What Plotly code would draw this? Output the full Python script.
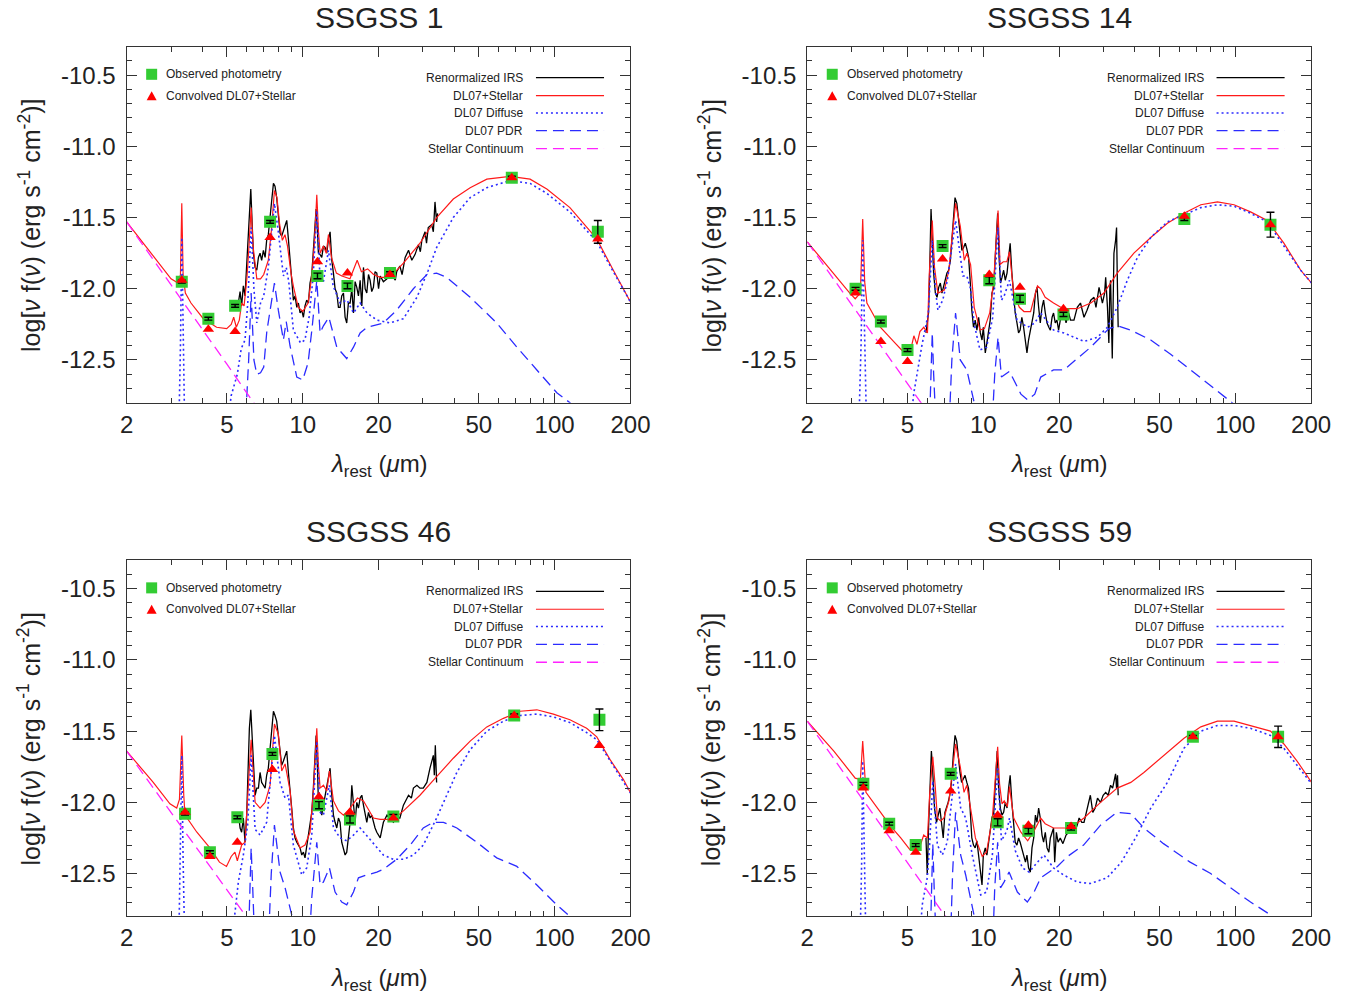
import plotly.graph_objects as go

FONT = "Liberation Sans, Arial, Helvetica, sans-serif"

TITLES = ["SSGSS 1", "SSGSS 14", "SSGSS 46", "SSGSS 59"]
X_TICKS = [2, 5, 10, 20, 50, 100, 200]
X_MINOR = [3, 4, 6, 7, 8, 9, 30, 40, 60, 70, 80, 90]
Y_TICKS = [-12.5, -12.0, -11.5, -11.0, -10.5]
Y_TICK_TEXT = ["-12.5", "-12.0", "-11.5", "-11.0", "-10.5"]
Y_MINOR = [-12.7, -12.6, -12.4, -12.3, -12.2, -12.1, -11.9, -11.8, -11.7, -11.6,
           -11.4, -11.3, -11.2, -11.1, -10.9, -10.8, -10.7, -10.6, -10.4]

LEG_RIGHT = ["Renormalized IRS", "DL07+Stellar", "DL07 Diffuse", "DL07 PDR", "Stellar Continuum"]
LEG_LEFT = ["Observed photometry", "Convolved DL07+Stellar"]

# ---------------- SSGSS 1 ----------------
P1_IRS = [(5.55,-12.10),(5.64,-12.02),(5.72,-12.12),(5.81,-11.98),(5.90,-12.05),(5.99,-11.82),(6.10,-11.60),
          (6.22,-11.30),(6.30,-11.55),(6.37,-11.75),(6.47,-11.85),(6.57,-11.87),(6.67,-11.78),(6.77,-11.75),
          (6.87,-11.80),(6.98,-11.73),(7.09,-11.78),(7.19,-11.66),(7.30,-11.62),(7.42,-11.47),(7.53,-11.38),
          (7.65,-11.26),(7.76,-11.28),(7.88,-11.36),(8.00,-11.50),(8.13,-11.61),(8.25,-11.63),(8.38,-11.59),
          (8.51,-11.55),(8.64,-11.52),(8.77,-11.65),(8.91,-11.80),(9.04,-11.95),(9.18,-12.08),(9.32,-12.05),
          (9.47,-12.13),(9.61,-12.10),(9.76,-12.17),(9.91,-12.15),(10.06,-12.20),(10.21,-12.12),(10.37,-12.08),
          (10.53,-12.10),(10.69,-11.96),(10.86,-11.90),(11.02,-11.71),(11.20,-11.55),(11.30,-11.44),
          (11.44,-11.60),(11.54,-11.75),(11.72,-11.76),(11.90,-11.78),(12.08,-11.70),(12.27,-11.71),
          (12.46,-11.75),(12.65,-11.65),(12.84,-11.60),(13.04,-11.80),(13.24,-11.89),(13.44,-12.00),
          (13.65,-12.03),(13.86,-12.13),(14.07,-12.13),(14.28,-12.05),(14.51,-12.03),(14.73,-12.20),
          (14.95,-12.24),(15.18,-12.10),(15.42,-12.10),(15.66,-12.00),(15.90,-12.17),(16.14,-11.95),
          (16.39,-11.99),(16.64,-12.05),(16.90,-11.94),(17.16,-12.12),(17.42,-11.85),(17.69,-12.00),
          (17.96,-12.03),(18.24,-11.90),(18.51,-11.94),(18.79,-12.02),(19.08,-11.99),(19.37,-11.88),
          (19.68,-11.89),(20.0,-12.00),(20.3,-11.91),(20.9,-11.95),(21.6,-11.93),(22.2,-11.90),(22.9,-11.92),
          (23.3,-11.94),(23.6,-11.88),(24.3,-11.84),(24.8,-11.90),(25.5,-11.78),(26.3,-11.73),(27.1,-11.80),
          (27.9,-11.76),(28.8,-11.69),(29.3,-11.74),(29.7,-11.66),(30.6,-11.60),(31.0,-11.68),(31.5,-11.57),
          (32.5,-11.55),(33.0,-11.60),(33.5,-11.39),(34.0,-11.53),(34.3,-11.47)]
P1_MODEL = [(2.0,-11.53),(2.5,-11.75),(3.0,-11.93),(3.2,-11.96),(3.27,-11.90),(3.31,-11.40),(3.35,-11.90),
            (3.42,-12.03),(3.6,-12.10),(4.03,-12.21),(4.55,-12.27),(4.99,-12.28),(5.2,-12.25),(5.32,-12.20),
            (5.45,-12.27),(5.6,-12.22),(5.72,-12.10),(5.85,-12.12),(6.0,-11.93),(6.12,-11.70),(6.24,-11.43),
            (6.35,-11.70),(6.57,-11.93),(6.8,-11.93),(7.0,-11.90),(7.3,-11.80),(7.5,-11.60),(7.72,-11.31),
            (7.9,-11.36),(8.1,-11.55),(8.3,-11.66),(8.5,-11.62),(8.7,-11.70),(9.0,-11.90),(9.2,-11.99),
            (9.6,-12.13),(10.0,-12.16),(10.5,-12.10),(10.9,-11.89),(11.15,-11.65),(11.37,-11.34),(11.55,-11.60),
            (11.72,-11.75),(12.08,-11.70),(12.4,-11.75),(12.65,-11.62),(13.0,-11.78),(13.6,-11.89),(14.3,-11.91),
            (15.4,-11.93),(16.0,-11.85),(16.45,-11.80),(17.1,-11.88),(18.1,-11.86),(19.1,-11.90),(20.3,-11.92),
            (22.2,-11.92),(25.1,-11.82),(29.2,-11.68),(34.0,-11.50),(39.6,-11.37),(46.2,-11.29),(53.8,-11.23),
            (66.6,-11.21),(79.9,-11.23),(93.1,-11.30),(115,-11.43),(147,-11.65),(171,-11.87),(201,-12.10)]
P1_DIFFUSE = [(3.22,-13.0),(3.27,-12.4),(3.31,-11.64),(3.35,-12.4),(3.40,-13.0),(5.0,-13.0),(5.2,-12.75),
              (5.5,-12.6),(5.7,-12.42),(5.9,-12.36),(6.05,-12.1),(6.24,-11.57),(6.4,-12.0),(6.57,-12.24),
              (6.8,-12.1),(7.0,-12.05),(7.3,-11.85),(7.72,-11.40),(8.0,-11.6),(8.38,-11.91),(8.6,-11.85),
              (8.8,-11.95),(9.18,-12.29),(9.8,-12.38),(10.2,-12.36),(10.6,-12.2),(11.0,-11.91),(11.37,-11.45),
              (11.7,-11.91),(12.08,-11.95),(12.65,-11.73),(13.2,-11.98),(14.07,-12.10),(15.0,-12.08),
              (15.9,-12.17),(16.9,-12.10),(18.0,-12.17),(19.7,-12.22),(22.2,-12.24),(25.1,-12.21),(28.4,-12.06),
              (31.5,-11.87),(34.0,-11.71),(39.6,-11.50),(46.2,-11.36),(53.8,-11.29),(66.6,-11.24),(79.9,-11.26),
              (93.1,-11.33),(115,-11.46),(147,-11.67),(171,-11.88),(201,-12.10)]
P1_PDR = [(5.9,-13.0),(6.1,-12.5),(6.24,-12.03),(6.4,-12.5),(6.57,-12.6),(6.8,-12.59),(7.0,-12.55),(7.2,-12.3),
          (7.5,-12.1),(7.72,-11.96),(8.0,-12.15),(8.38,-12.36),(8.6,-12.23),(8.9,-12.4),(9.47,-12.62),
          (10.0,-12.64),(10.5,-12.52),(10.9,-12.27),(11.37,-11.94),(11.72,-12.31),(12.08,-12.26),(12.7,-12.20),
          (13.65,-12.41),(14.95,-12.49),(15.9,-12.41),(16.9,-12.31),(18.0,-12.27),(20.9,-12.24),(23.6,-12.15),
          (27.5,-12.0),(31.1,-11.90),(34.0,-11.89),(37.3,-11.92),(46.2,-12.06),(58.9,-12.24),(70.8,-12.41),
          (85,-12.57),(102,-12.73),(115,-12.80),(125,-12.87)]
P1_STELLAR = [(2.0,-11.53),(3.0,-11.97),(4.0,-12.29),(5.0,-12.53),(6.5,-12.82),(7.0,-12.9)]
P1_PHOT_LAM = [3.31, 4.22, 5.39, 7.42, 11.44, 15.05, 22.2, 67.6, 148.4]
P1_PHOT_OBS = [-11.95, -12.21, -12.12, -11.53, -11.91, -11.98, -11.89, -11.22, -11.60]
P1_PHOT_ERR = [0.01, 0.01, 0.01, 0.01, 0.02, 0.02, 0.01, 0.01, 0.08]
P1_PHOT_MOD = [-11.94, -12.285, -12.30, -11.64, -11.81, -11.89, -11.90, -11.22, -11.65]

# ---------------- SSGSS 14 ----------------
P2_IRS = [(5.92,-12.31),(6.00,-12.24),(6.06,-12.17),(6.12,-11.89),(6.20,-11.44),(6.27,-11.66),(6.35,-11.89),
          (6.45,-12.03),(6.55,-12.06),(6.65,-11.99),(6.75,-11.96),(6.85,-12.03),(6.95,-11.99),(7.06,-11.94),
          (7.17,-11.89),(7.28,-11.87),(7.40,-11.80),(7.50,-11.66),(7.62,-11.47),(7.72,-11.36),(7.85,-11.40),
          (7.97,-11.52),(8.10,-11.66),(8.22,-11.73),(8.35,-11.71),(8.48,-11.68),(8.60,-11.72),(8.74,-11.78),
          (8.88,-11.96),(9.00,-12.15),(9.14,-12.27),(9.28,-12.22),(9.43,-12.29),(9.58,-12.20),(9.73,-12.31),
          (9.88,-12.36),(10.00,-12.27),(10.18,-12.45),(10.33,-12.38),(10.50,-12.29),(10.65,-12.22),
          (10.82,-12.03),(11.00,-11.99),(11.20,-11.71),(11.40,-11.47),(11.55,-11.78),(11.70,-11.96),
          (11.86,-11.92),(12.04,-11.87),(12.22,-11.94),(12.42,-11.89),(12.60,-11.78),(12.78,-11.68),
          (12.98,-11.89),(13.18,-12.06),(13.38,-12.17),(13.60,-12.24),(13.80,-12.31),(14.00,-12.29),
          (14.22,-12.20),(14.45,-12.27),(14.70,-12.36),(14.90,-12.45),(15.12,-12.36),(15.36,-12.29),
          (15.60,-12.22),(15.85,-12.17),(16.10,-12.03),(16.33,-11.99),(16.58,-12.13),(16.83,-12.24),
          (17.10,-12.13),(17.35,-12.08),(17.62,-12.17),(17.90,-12.24),(18.20,-12.27),(18.45,-12.29),
          (18.75,-12.20),(19.00,-12.17),(19.30,-12.24),(19.60,-12.22),(19.90,-12.29),(20.3,-12.20),
          (20.9,-12.17),(21.3,-12.24),(21.8,-12.17),(22.2,-12.22),(22.9,-12.22),(23.6,-12.13),(24.3,-12.10),
          (25.1,-12.20),(25.8,-12.15),(26.7,-12.08),(27.5,-12.06),(28.0,-12.13),(28.8,-11.99),(29.7,-12.10),
          (30.3,-12.03),(30.6,-11.92),(31.1,-12.13),(31.5,-12.38),(31.8,-11.99),(32.0,-11.94),(32.5,-12.49),
          (32.8,-11.89),(33.0,-11.75),(33.5,-11.66),(33.8,-11.57),(34.0,-11.89),(34.3,-12.27)]
P2_MODEL = [(2.0,-11.67),(2.5,-11.88),(2.95,-12.03),(3.1,-12.07),(3.25,-12.03),(3.32,-11.51),(3.38,-11.95),
            (3.45,-12.10),(3.9,-12.27),(4.4,-12.37),(4.8,-12.44),(5.1,-12.46),(5.3,-12.33),(5.45,-12.39),
            (5.6,-12.30),(5.8,-12.27),(6.0,-12.31),(6.1,-11.90),(6.27,-11.52),(6.4,-11.85),(6.6,-12.03),
            (7.0,-12.01),(7.3,-11.87),(7.5,-11.65),(7.76,-11.40),(8.1,-11.56),(8.4,-11.80),(8.6,-11.75),
            (8.9,-11.83),(9.2,-12.13),(9.7,-12.29),(10.1,-12.28),(10.6,-12.17),(11.0,-11.94),(11.2,-11.70),
            (11.44,-11.45),(11.65,-11.83),(12.0,-11.81),(12.4,-11.81),(12.7,-11.74),(13.2,-12.03),(13.9,-12.13),
            (14.5,-12.16),(15.4,-12.16),(16.0,-12.05),(16.4,-11.98),(16.9,-12.00),(17.6,-12.06),(19.0,-12.10),
            (20.3,-12.13),(21.2,-12.14),(23.6,-12.14),(26.7,-12.10),(30.1,-12.03),(34.0,-11.89),(39.6,-11.75),
            (46.2,-11.64),(53.8,-11.54),(62.6,-11.47),(73.0,-11.41),(85,-11.39),(98.9,-11.41),(115,-11.46),
            (134,-11.52),(156,-11.68),(182,-11.87),(201,-11.96)]
P2_DIFFUSE = [(3.20,-13.0),(3.27,-12.4),(3.32,-11.66),(3.37,-12.4),(3.44,-13.0),(5.1,-13.0),(5.3,-12.73),
              (5.7,-12.40),(6.05,-12.17),(6.27,-11.66),(6.45,-12.0),(6.6,-12.15),(6.9,-12.08),(7.2,-11.94),
              (7.76,-11.52),(8.0,-11.7),(8.3,-11.91),(8.6,-11.91),(8.9,-12.0),(9.2,-12.25),(9.7,-12.43),
              (10.3,-12.41),(10.9,-12.2),(11.44,-11.57),(11.8,-12.08),(12.1,-12.05),(12.7,-11.94),(13.6,-12.22),
              (15.0,-12.27),(16.0,-12.24),(16.9,-12.17),(19.0,-12.29),(20.9,-12.31),(25.1,-12.37),(28.4,-12.34),
              (31.1,-12.27),(34.0,-12.13),(37.3,-11.94),(40.9,-11.78),(46.2,-11.64),(53.8,-11.53),(62.6,-11.48),
              (73.0,-11.43),(85,-11.41),(98.9,-11.42),(115,-11.47),(134,-11.53),(156,-11.70),(182,-11.87),
              (201,-11.96)]
P2_PDR = [(6.1,-13.0),(6.2,-12.6),(6.27,-12.31),(6.35,-12.6),(6.5,-13.0),(7.3,-13.0),(7.5,-12.5),(7.76,-12.17),
          (8.1,-12.50),(8.6,-12.57),(9.2,-12.80),(9.6,-13.0),(10.8,-13.0),(11.1,-12.6),(11.44,-12.34),
          (11.8,-12.62),(12.3,-12.60),(12.7,-12.58),(14.1,-12.74),(15.0,-12.78),(16.0,-12.74),(16.9,-12.62),
          (19.0,-12.57),(20.9,-12.57),(23.6,-12.49),(26.7,-12.41),(29.2,-12.34),(31.5,-12.28),(34.0,-12.26),
          (38.5,-12.29),(46.2,-12.36),(55.4,-12.46),(66.6,-12.57),(79.9,-12.68),(96,-12.79),(102,-12.83)]
P2_STELLAR = [(2.0,-11.67),(3.0,-12.11),(4.0,-12.42),(5.0,-12.66),(5.7,-12.80),(6.2,-12.9)]
P2_PHOT_LAM = [3.11, 3.92, 5.0, 6.89, 10.56, 13.98, 20.8, 62.8, 138]
P2_PHOT_OBS = [-12.0, -12.23, -12.43, -11.70, -11.94, -12.07, -12.18, -11.51, -11.55]
P2_PHOT_ERR = [0.01, 0.01, 0.01, 0.01, 0.025, 0.025, 0.015, 0.01, 0.087]
P2_PHOT_MOD = [-12.03, -12.37, -12.51, -11.79, -11.90, -11.99, -12.14, -11.49, -11.55]

# ---------------- SSGSS 46 ----------------
P3_IRS = [(5.47,-12.14),(5.55,-12.07),(5.64,-12.18),(5.72,-12.21),(5.81,-12.11),(5.90,-12.28),(5.99,-12.09),
          (6.08,-11.76),(6.14,-11.48),(6.22,-11.35),(6.30,-11.57),(6.37,-11.71),(6.47,-11.95),(6.57,-11.90),
          (6.67,-11.90),(6.77,-11.79),(6.87,-11.86),(6.98,-11.88),(7.09,-11.90),(7.19,-11.81),(7.30,-11.76),
          (7.42,-11.62),(7.53,-11.48),(7.65,-11.36),(7.76,-11.39),(7.88,-11.43),(8.00,-11.53),(8.13,-11.64),
          (8.25,-11.74),(8.38,-11.71),(8.51,-11.67),(8.64,-11.64),(8.77,-11.79),(8.91,-11.90),(9.04,-12.04),
          (9.18,-12.18),(9.32,-12.25),(9.47,-12.28),(9.61,-12.30),(9.76,-12.32),(9.91,-12.37),(10.06,-12.35),
          (10.21,-12.39),(10.37,-12.30),(10.53,-12.23),(10.69,-12.14),(10.86,-12.07),(11.02,-11.90),
          (11.20,-11.67),(11.30,-11.53),(11.44,-11.76),(11.54,-12.00),(11.72,-12.04),(11.90,-12.09),
          (12.08,-12.02),(12.27,-11.95),(12.46,-11.90),(12.65,-11.81),(12.84,-11.76),(13.04,-11.95),
          (13.24,-12.09),(13.44,-12.14),(13.65,-12.18),(13.86,-12.11),(14.07,-12.14),(14.28,-12.28),
          (14.51,-12.32),(14.73,-12.37),(14.95,-12.35),(15.18,-12.25),(15.42,-12.14),(15.66,-11.88),
          (15.90,-12.04),(16.14,-12.14),(16.39,-12.00),(16.64,-12.04),(16.90,-11.97),(17.16,-11.95),
          (17.42,-12.02),(17.69,-12.09),(17.96,-12.14),(18.24,-12.07),(18.51,-12.11),(18.79,-12.09),
          (19.08,-12.14),(19.37,-12.18),(19.68,-12.21),(20.3,-12.25),(20.9,-12.14),(21.6,-12.09),(22.2,-12.11),
          (22.9,-12.14),(23.6,-12.11),(24.3,-12.11),(25.1,-12.02),(25.8,-11.98),(26.3,-11.95),(27.0,-11.97),
          (27.5,-11.90),(28.4,-11.88),(29.2,-11.90),(30.1,-11.90),(31.1,-11.86),(32.0,-11.76),(33.0,-11.67),
          (33.3,-11.81),(33.6,-11.60),(34.0,-11.86)]
P3_MODEL = [(2.0,-11.64),(2.55,-11.86),(2.97,-12.01),(3.16,-12.04),(3.24,-11.98),(3.31,-11.53),(3.37,-11.95),
            (3.41,-12.09),(3.8,-12.21),(4.28,-12.32),(4.67,-12.42),(4.98,-12.45),(5.2,-12.38),(5.38,-12.35),
            (5.5,-12.41),(5.72,-12.30),(5.9,-12.28),(6.0,-12.09),(6.12,-11.80),(6.24,-11.56),(6.36,-11.80),
            (6.47,-12.00),(6.77,-12.04),(7.09,-12.00),(7.42,-11.88),(7.72,-11.45),(8.0,-11.52),(8.25,-11.78),
            (8.51,-11.73),(8.91,-11.92),(9.18,-12.20),(9.76,-12.32),(10.21,-12.30),(10.69,-12.21),(11.02,-11.93),
            (11.2,-11.70),(11.37,-11.48),(11.55,-11.75),(11.72,-11.90),(12.08,-11.88),(12.46,-11.92),
            (12.76,-11.78),(13.24,-11.99),(13.86,-12.06),(14.51,-12.09),(15.42,-12.04),(16.49,-11.97),
            (17.42,-11.99),(19.08,-12.11),(20.3,-12.12),(22.9,-12.12),(25.1,-12.06),(29.2,-11.95),(34.0,-11.82),
            (39.6,-11.69),(46.2,-11.57),(53.8,-11.47),(62.6,-11.41),(73.0,-11.36),(85,-11.35),(98.9,-11.38),
            (115,-11.42),(134,-11.48),(147,-11.54),(166,-11.70),(187.6,-11.84),(201,-11.94)]
P3_DIFFUSE = [(3.22,-13.0),(3.27,-12.4),(3.31,-11.67),(3.35,-12.4),(3.40,-13.0),(5.25,-12.95),(5.55,-12.56),
              (5.81,-12.37),(6.05,-12.15),(6.24,-11.67),(6.47,-12.19),(6.77,-12.23),(7.19,-12.14),(7.72,-11.53),
              (8.13,-11.86),(8.51,-11.97),(8.77,-11.95),(9.18,-12.30),(9.91,-12.51),(10.37,-12.46),(10.86,-12.23),
              (11.37,-11.57),(11.72,-12.07),(12.08,-12.09),(12.76,-11.88),(13.24,-12.18),(14.07,-12.25),
              (14.95,-12.27),(15.9,-12.23),(16.9,-12.18),(18.24,-12.25),(19.68,-12.32),(20.9,-12.37),
              (22.9,-12.40),(25.1,-12.40),(27.5,-12.37),(30.1,-12.30),(34.0,-12.11),(37.3,-11.95),(40.9,-11.79),
              (46.2,-11.63),(53.8,-11.50),(62.6,-11.43),(73.0,-11.39),(85,-11.38),(98.9,-11.40),(115,-11.44),
              (134,-11.51),(147,-11.56),(166,-11.71),(201,-11.94)]
P3_PDR = [(6.08,-13.0),(6.15,-12.6),(6.24,-12.32),(6.33,-12.6),(6.45,-13.0),(7.3,-13.0),(7.5,-12.5),(7.72,-12.16),
          (8.13,-12.49),(8.51,-12.60),(9.04,-12.79),(9.3,-13.0),(10.6,-13.0),(10.86,-12.67),(11.37,-12.28),
          (11.72,-12.58),(12.08,-12.56),(12.76,-12.46),(13.44,-12.63),(14.28,-12.70),(14.95,-12.72),
          (15.9,-12.63),(16.64,-12.53),(17.96,-12.51),(19.68,-12.49),(20.9,-12.47),(23.6,-12.40),(26.7,-12.30),
          (30.1,-12.18),(33.0,-12.14),(36.2,-12.14),(40.9,-12.18),(49.1,-12.28),(58.9,-12.39),(70.8,-12.45),
          (85,-12.58),(102,-12.72),(113,-12.79),(120,-12.85)]
P3_STELLAR = [(2.0,-11.64),(3.0,-12.07),(4.0,-12.38),(5.0,-12.62),(6.0,-12.81),(6.3,-12.86)]
P3_PHOT_LAM = [3.41, 4.28, 5.5, 7.58, 11.6, 15.4, 22.9, 69.1, 150.6]
P3_PHOT_OBS = [-12.08, -12.35, -12.105, -11.66, -12.02, -12.12, -12.10, -11.39, -11.42]
P3_PHOT_ERR = [0.01, 0.01, 0.01, 0.01, 0.025, 0.025, 0.015, 0.01, 0.076]
P3_PHOT_MOD = [-12.07, -12.38, -12.28, -11.77, -11.96, -12.07, -12.11, -11.39, -11.60]

# ---------------- SSGSS 59 ----------------
P4_IRS = [(5.92,-12.25),(5.99,-12.51),(6.06,-12.18),(6.14,-11.90),(6.22,-11.64),(6.30,-11.79),(6.40,-12.04),
          (6.52,-12.14),(6.62,-12.09),(6.72,-12.04),(6.82,-12.14),(6.93,-12.25),(7.04,-12.07),(7.14,-12.04),
          (7.25,-12.00),(7.36,-11.95),(7.47,-11.86),(7.60,-11.67),(7.72,-11.53),(7.84,-11.57),(7.96,-11.71),
          (8.08,-11.79),(8.20,-11.86),(8.33,-11.83),(8.46,-11.81),(8.60,-11.86),(8.73,-11.90),(8.86,-12.04),
          (9.00,-12.25),(9.14,-12.30),(9.28,-12.32),(9.43,-12.27),(9.58,-12.37),(9.73,-12.44),(9.88,-12.58),
          (10.00,-12.37),(10.18,-12.32),(10.33,-12.37),(10.50,-12.27),(10.65,-12.21),(10.82,-12.11),
          (11.00,-12.07),(11.15,-11.90),(11.35,-11.64),(11.50,-11.90),(11.68,-12.04),(11.86,-12.09),
          (12.04,-12.07),(12.22,-12.00),(12.42,-12.04),(12.60,-11.90),(12.78,-11.81),(12.98,-12.00),
          (13.18,-12.18),(13.38,-12.28),(13.60,-12.30),(13.80,-12.25),(14.00,-12.28),(14.22,-12.32),
          (14.45,-12.37),(14.70,-12.42),(14.90,-12.37),(15.12,-12.46),(15.36,-12.49),(15.60,-12.32),
          (15.85,-12.25),(16.10,-12.09),(16.33,-12.14),(16.58,-12.04),(16.83,-12.11),(17.10,-12.23),
          (17.35,-12.28),(17.62,-12.21),(17.90,-12.32),(18.20,-12.35),(18.45,-12.25),(18.75,-12.21),
          (19.00,-12.18),(19.20,-12.42),(19.50,-12.21),(19.80,-12.28),(20.2,-12.25),(20.7,-12.29),(21.3,-12.23),
          (21.8,-12.21),(22.4,-12.18),(23.0,-12.21),(23.6,-12.16),(24.0,-12.11),(24.6,-12.14),(25.1,-12.14),
          (25.8,-12.04),(26.6,-11.95),(27.2,-12.07),(27.8,-12.04),(28.4,-11.97),(29.2,-12.00),(29.9,-11.95),
          (30.6,-11.93),(31.3,-11.95),(32.0,-11.88),(32.6,-11.90),(33.0,-11.86),(33.5,-11.80),(33.8,-11.90),
          (34.1,-11.81),(34.3,-11.95)]
P4_MODEL = [(2.0,-11.43),(2.55,-11.64),(3.1,-11.83),(3.25,-11.84),(3.32,-11.57),(3.38,-11.84),(3.42,-11.93),
            (3.8,-12.04),(4.3,-12.17),(4.7,-12.25),(5.1,-12.33),(5.4,-12.32),(5.6,-12.31),(5.8,-12.23),
            (6.0,-12.25),(6.12,-11.95),(6.3,-11.68),(6.45,-11.90),(6.57,-12.11),(6.77,-12.13),(6.98,-12.11),
            (7.3,-11.99),(7.5,-11.80),(7.76,-11.59),(8.1,-11.75),(8.38,-11.93),(8.6,-11.88),(9.0,-12.11),
            (9.3,-12.25),(9.9,-12.38),(10.3,-12.35),(10.86,-12.11),(11.1,-11.85),(11.4,-11.61),(11.6,-11.87),
            (11.86,-12.01),(12.1,-11.99),(12.46,-12.03),(12.7,-11.89),(13.2,-12.11),(14.1,-12.21),(15.0,-12.27),
            (15.9,-12.20),(16.9,-12.11),(17.6,-12.15),(19.0,-12.18),(20.3,-12.18),(22.2,-12.18),(25.1,-12.11),
            (29.2,-12.00),(34.0,-11.90),(38.5,-11.86),(43.4,-11.79),(52.2,-11.67),(62.6,-11.55),(73.0,-11.47),
            (85,-11.43),(98.9,-11.43),(115,-11.46),(138,-11.50),(156,-11.59),(176,-11.71),(201,-11.86)]
P4_DIFFUSE = [(3.24,-13.0),(3.29,-12.4),(3.32,-11.71),(3.36,-12.4),(3.42,-13.0),(5.6,-12.95),(5.72,-12.72),
              (5.99,-12.53),(6.12,-12.30),(6.30,-11.85),(6.47,-12.15),(6.57,-12.30),(6.87,-12.37),(7.19,-12.28),
              (7.76,-11.73),(8.13,-12.04),(8.51,-12.11),(9.04,-12.37),(9.76,-12.65),(10.3,-12.63),(10.86,-12.37),
              (11.4,-11.75),(11.8,-12.27),(12.4,-12.20),(12.7,-12.11),(13.4,-12.34),(14.3,-12.46),(15.2,-12.49),
              (16.4,-12.42),(17.4,-12.37),(19.0,-12.46),(20.8,-12.51),(23.6,-12.56),(26.6,-12.57),(31.0,-12.53),
              (35.3,-12.42),(40.2,-12.25),(46.2,-12.04),(53.8,-11.86),(62.6,-11.62),(73.0,-11.50),(85,-11.46),
              (98.9,-11.46),(115,-11.48),(138,-11.53),(156,-11.62),(176,-11.74),(201,-11.87)]
P4_PDR = [(6.15,-13.0),(6.22,-12.6),(6.30,-12.29),(6.38,-12.6),(6.5,-13.0),(7.4,-13.0),(7.55,-12.5),(7.76,-12.07),
          (8.13,-12.37),(8.51,-12.51),(9.18,-12.79),(9.4,-13.0),(10.9,-13.0),(11.1,-12.6),(11.4,-12.28),
          (11.7,-12.60),(12.08,-12.56),(12.65,-12.49),(13.65,-12.63),(14.95,-12.70),(15.9,-12.63),(16.9,-12.53),
          (18.24,-12.49),(19.68,-12.45),(21.6,-12.38),(25.0,-12.30),(29.2,-12.16),(33.9,-12.07),(38.5,-12.08),
          (43.4,-12.18),(51.9,-12.29),(66.2,-12.42),(79.9,-12.50),(95.4,-12.60),(115,-12.70),(138,-12.79),
          (150,-12.86)]
P4_STELLAR = [(2.0,-11.43),(3.0,-11.87),(4.0,-12.18),(5.0,-12.42),(6.0,-12.62),(7.0,-12.79),(7.5,-12.87)]
P4_PHOT_LAM = [3.34, 4.23, 5.39, 7.42, 11.4, 15.1, 22.3, 67.9, 148.0]
P4_PHOT_OBS = [-11.87, -12.15, -12.30, -11.80, -12.14, -12.20, -12.18, -11.54, -11.54]
P4_PHOT_ERR = [0.01, 0.01, 0.01, 0.01, 0.025, 0.02, 0.015, 0.01, 0.075]
P4_PHOT_MOD = [-11.90, -12.20, -12.35, -11.92, -12.09, -12.16, -12.17, -11.54, -11.54]

PANELS = [
    dict(irs=P1_IRS, model=P1_MODEL, diffuse=P1_DIFFUSE, pdr=P1_PDR, stellar=P1_STELLAR,
         lam=P1_PHOT_LAM, obs=P1_PHOT_OBS, err=P1_PHOT_ERR, mod=P1_PHOT_MOD),
    dict(irs=P2_IRS, model=P2_MODEL, diffuse=P2_DIFFUSE, pdr=P2_PDR, stellar=P2_STELLAR,
         lam=P2_PHOT_LAM, obs=P2_PHOT_OBS, err=P2_PHOT_ERR, mod=P2_PHOT_MOD),
    dict(irs=P3_IRS, model=P3_MODEL, diffuse=P3_DIFFUSE, pdr=P3_PDR, stellar=P3_STELLAR,
         lam=P3_PHOT_LAM, obs=P3_PHOT_OBS, err=P3_PHOT_ERR, mod=P3_PHOT_MOD),
    dict(irs=P4_IRS, model=P4_MODEL, diffuse=P4_DIFFUSE, pdr=P4_PDR, stellar=P4_STELLAR,
         lam=P4_PHOT_LAM, obs=P4_PHOT_OBS, err=P4_PHOT_ERR, mod=P4_PHOT_MOD),
]

# ---------------- styling / layout ----------------
W, H = 1362, 998
XD = [[0.0930, 0.4629], [0.5927, 0.9626], [0.0930, 0.4629], [0.5927, 0.9626]]
YD = [[0.5965, 0.9532], [0.5965, 0.9532], [0.0819, 0.4386], [0.0819, 0.4386]]

BLACK = "#000000"
RED = "#ff1a1a"
BLUE = "#2b2bff"
MAGENTA = "#ff22ff"
GREEN = "#33cc33"
AXC = "#333333"
TXT = "#222222"

STY = {
    "irs": dict(color=BLACK, width=1.3),
    "model": dict(color=RED, width=1.2),
    "diffuse": dict(color=BLUE, width=1.6, dash="2px,3px"),
    "pdr": dict(color=BLUE, width=1.3, dash="11px,6px"),
    "stellar": dict(color=MAGENTA, width=1.3, dash="11px,6px"),
}

fig = go.Figure()


def unzip(pairs):
    return [p[0] for p in pairs], [p[1] for p in pairs]


for i, d in enumerate(PANELS):
    sfx = "" if i == 0 else str(i + 1)
    xa, ya = "x" + sfx, "y" + sfx
    for key in ["irs", "model", "diffuse", "pdr", "stellar"]:
        x, y = unzip(d[key])
        fig.add_trace(go.Scatter(x=x, y=y, mode="lines", line=STY[key],
                                 xaxis=xa, yaxis=ya, hoverinfo="skip"))
    fig.add_trace(go.Scatter(x=d["lam"], y=d["obs"], mode="markers",
                             marker=dict(symbol="square", size=12, color=GREEN),
                             xaxis=xa, yaxis=ya, hoverinfo="skip"))
    fig.add_trace(go.Scatter(x=d["lam"], y=d["obs"], mode="markers",
                             marker=dict(size=1, color="rgba(0,0,0,0)"),
                             error_y=dict(type="data", array=d["err"], color="black",
                                          thickness=1.4, width=4),
                             xaxis=xa, yaxis=ya, hoverinfo="skip"))
    fig.add_trace(go.Scatter(x=d["lam"], y=d["mod"], mode="markers",
                             marker=dict(symbol="triangle-up", size=10, color="#ff0000"),
                             xaxis=xa, yaxis=ya, hoverinfo="skip"))

axis_common = dict(ticks="inside", tickwidth=1, tickcolor=AXC, showline=True,
                   linecolor=AXC, linewidth=1.3, mirror="allticks", showgrid=False,
                   zeroline=False, automargin=False,
                   tickfont=dict(size=24, family=FONT, color=TXT))

layout = dict(width=W, height=H, margin=dict(l=0, r=0, t=0, b=0, pad=0, autoexpand=False),
              paper_bgcolor="white", plot_bgcolor="white", showlegend=False,
              font=dict(family=FONT, color=TXT))
for i in range(4):
    sfx = "" if i == 0 else str(i + 1)
    layout["xaxis" + sfx] = dict(axis_common, domain=XD[i], anchor="y" + sfx, type="log",
                                 range=[0.30100, 2.30106], tickmode="array",
                                 tickvals=X_TICKS, ticktext=[str(v) for v in X_TICKS],
                                 ticklen=10, ticklabelstandoff=0,
                                 minor=dict(tickmode="array", tickvals=X_MINOR, ticks="inside",
                                            ticklen=5, tickwidth=1, tickcolor=AXC, showgrid=False))
    layout["yaxis" + sfx] = dict(axis_common, domain=YD[i], anchor="x" + sfx,
                                 range=[-12.8, -10.3], tickmode="array",
                                 tickvals=Y_TICKS, ticktext=Y_TICK_TEXT,
                                 ticklen=10, ticklabelstandoff=5,
                                 minor=dict(tickmode="array", tickvals=Y_MINOR, ticks="inside",
                                            ticklen=5, tickwidth=1, tickcolor=AXC, showgrid=False))
fig.update_layout(**layout)

annotations = []
shapes = []
# titles and axis titles
for i in range(4):
    xc = (XD[i][0] + XD[i][1]) / 2
    ytop = YD[i][1]
    annotations.append(dict(text=TITLES[i], x=xc, y=ytop + 0.029, xref="paper", yref="paper",
                            showarrow=False, font=dict(size=30, family=FONT, color=TXT),
                            xanchor="center", yanchor="middle"))
    annotations.append(dict(text="<i>λ</i><sub>rest</sub> (<i>μ</i>m)", x=xc, y=YD[i][0] - 0.063,
                            xref="paper", yref="paper", showarrow=False,
                            font=dict(size=24, family=FONT, color=TXT),
                            xanchor="center", yanchor="middle"))
    annotations.append(dict(text="log[<i>ν</i> f(<i>ν</i>) (erg s<sup>-1</sup> cm<sup>-2</sup>)]",
                            x=XD[i][0] - 0.0715, y=(YD[i][0] + YD[i][1]) / 2 - 0.001,
                            xref="paper", yref="paper", showarrow=False, textangle=-90,
                            font=dict(size=25, family=FONT, color=TXT),
                            xanchor="center", yanchor="middle"))

# in-panel legends
LEG_Y = [0.9129, 0.8624, 0.8138, 0.7640, 0.7135]
LEG_STY = [STY["irs"], STY["model"], STY["diffuse"], STY["pdr"], STY["stellar"]]
for i in range(4):
    sfx = "" if i == 0 else str(i + 1)
    xr, yr = "x" + sfx + " domain", "y" + sfx + " domain"
    for lab, yy, st in zip(LEG_RIGHT, LEG_Y, LEG_STY):
        annotations.append(dict(text=lab, x=0.7906, y=yy, xref=xr, yref=yr, showarrow=False,
                                xanchor="right", yanchor="middle",
                                font=dict(size=12, family=FONT, color=TXT)))
        ln = dict(color=st["color"], width=st["width"])
        if "dash" in st:
            ln["dash"] = st["dash"]
        shapes.append(dict(type="line", x0=0.8124, x1=0.9475, y0=yy, y1=yy, xref=xr, yref=yr, line=ln))
    # left legend
    annotations.append(dict(text=LEG_LEFT[0], x=0.074, y=0.9225, xref=xr, yref=yr, showarrow=False,
                            xanchor="left", yanchor="middle", font=dict(size=12, family=FONT, color=TXT)))
    annotations.append(dict(text=LEG_LEFT[1], x=0.074, y=0.8624, xref=xr, yref=yr, showarrow=False,
                            xanchor="left", yanchor="middle", font=dict(size=12, family=FONT, color=TXT)))
    shapes.append(dict(type="rect", x0=0.0496 - 0.0109, x1=0.0496 + 0.0109, y0=0.9225 - 0.0155,
                       y1=0.9225 + 0.0155, xref=xr, yref=yr, fillcolor=GREEN, line=dict(width=0)))
    cx, cy, hw, hh = 0.0496, 0.8624, 0.0099, 0.0126
    shapes.append(dict(type="path",
                       path=f"M {cx - hw},{cy - hh} L {cx + hw},{cy - hh} L {cx},{cy + hh} Z",
                       xref=xr, yref=yr, fillcolor="#ff0000", line=dict(width=0)))

fig.update_layout(annotations=annotations, shapes=shapes)
fig.write_html("out.html")
